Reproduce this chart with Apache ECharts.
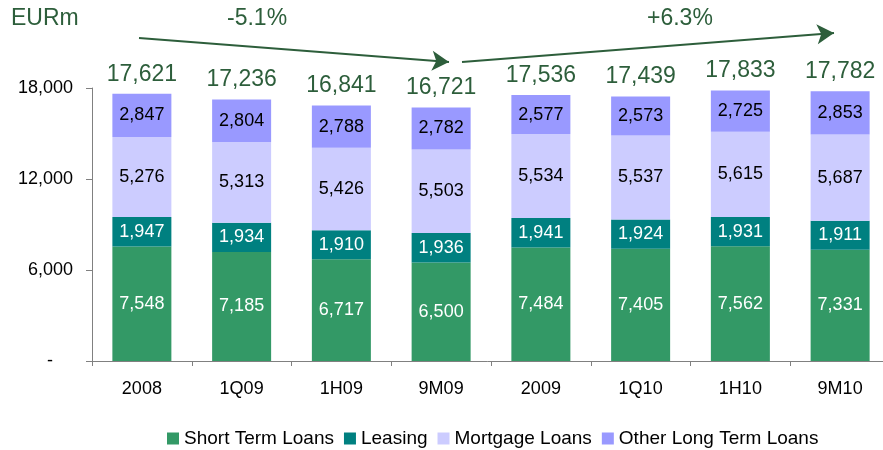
<!DOCTYPE html>
<html>
<head>
<meta charset="utf-8">
<script src="https://cdn.jsdelivr.net/npm/echarts@6/dist/echarts.min.js"></script>
<style>
  html, body { margin: 0; padding: 0; background: #fff; }
  #chart { width: 883px; height: 450px; }
</style>
</head>
<body>
<div id="chart"></div>
<script>
// Données
const periodes = ["2008", "1Q09", "1H09", "9M09", "2009", "1Q10", "1H10", "9M10"];
const courtTerme = [7548, 7185, 6717, 6500, 7484, 7405, 7562, 7331];
const leasing = [1947, 1934, 1910, 1936, 1941, 1924, 1931, 1911];
const hypothecaire = [5276, 5313, 5426, 5503, 5534, 5537, 5615, 5687];
const autresLongTerme = [2847, 2804, 2788, 2782, 2577, 2573, 2725, 2853];
const totaux = [17621, 17236, 16841, 16721, 17536, 17439, 17833, 17782];
const yTicks = [0, 6000, 12000, 18000];

const fmt = v => v.toLocaleString("en-US");
const vert = "#2d5e3b";
const police = "Liberation Sans, Arial, sans-serif";

function serieEmpilee(nom, data, couleur, couleurTexte) {
    return {
        name: nom,
        type: "bar",
        stack: "total",
        data: data,
        barWidth: 59,
        itemStyle: { color: couleur },
        label: {
            show: true,
            position: "inside",
            color: couleurTexte,
            fontSize: 18,
            fontFamily: police,
            formatter: p => fmt(p.value)
        }
    };
}

const chart = echarts.init(document.getElementById("chart"));
const option = {
    animation: false,
    backgroundColor: "#fff",
    textStyle: { fontFamily: police },
    grid: { left: 92, top: 88, width: 798, height: 273, containLabel: false, outerBoundsMode: "none" },
    legend: {
        data: ["Short Term Loans", "Leasing", "Mortgage Loans", "Other Long Term Loans"],
        top: 429,
        left: 167,
        itemWidth: 12,
        itemHeight: 12,
        itemGap: 10,
        icon: "rect",
        padding: 0,
        textStyle: { fontSize: 19, color: "#000", fontFamily: police }
    },
    xAxis: {
        type: "category",
        data: periodes,
        axisLine: { lineStyle: { color: "#808080", width: 1 } },
        axisTick: { show: true, length: 5, lineStyle: { color: "#808080" } },
        axisLabel: { color: "#000", fontSize: 18, margin: 19, fontFamily: police }
    },
    yAxis: {
        type: "value",
        min: 0,
        max: 18000,
        interval: 6000,
        splitLine: { show: false },
        axisLine: { show: true, lineStyle: { color: "#808080", width: 1 } },
        axisTick: { show: true, length: 6, lineStyle: { color: "#808080" } },
        axisLabel: {
            color: "#000",
            fontSize: 18,
            margin: 19,
            fontFamily: police,
            formatter: v => yTicks.includes(v) ? (v === 0 ? "{d|-}" : fmt(v)) : "",
            rich: { d: { fontSize: 18, color: "#000", padding: [0, 20, 0, 0] } }
        }
    },
    series: [
        serieEmpilee("Short Term Loans", courtTerme, "#339966", "#fff"),
        serieEmpilee("Leasing", leasing, "#008080", "#fff"),
        serieEmpilee("Mortgage Loans", hypothecaire, "#ccccff", "#000"),
        serieEmpilee("Other Long Term Loans", autresLongTerme, "#9999ff", "#000"),
        {
            // Série vide pour afficher les totaux au-dessus des barres
            name: "Total",
            type: "bar",
            stack: "total",
            data: totaux.map(() => 0),
            barWidth: 59,
            itemStyle: { color: "transparent" },
            label: {
                show: true,
                position: "top",
                distance: 8,
                color: vert,
                fontSize: 23,
                fontFamily: police,
                formatter: p => fmt(totaux[p.dataIndex])
            },
            markLine: {
                silent: true,
                symbol: ["none", "arrow"],
                symbolSize: [15, 17],
                label: { show: false },
                lineStyle: { color: vert, width: 2, type: "solid" },
                data: [
                    [{ x: 139, y: 38 }, { x: 449, y: 62 }],
                    [{ x: 462, y: 62 }, { x: 834, y: 33 }]
                ]
            }
        }
    ],
    graphic: [
        { type: "text", left: 11, top: 7, style: { text: "EURm", fontSize: 23, fill: vert, fontFamily: police } },
        { type: "text", left: 227, top: 7, style: { text: "-5.1%", fontSize: 23, fill: vert, fontFamily: police } },
        { type: "text", left: 647, top: 7, style: { text: "+6.3%", fontSize: 23, fill: vert, fontFamily: police } }
    ]
};
chart.setOption(option);
</script>
</body>
</html>
